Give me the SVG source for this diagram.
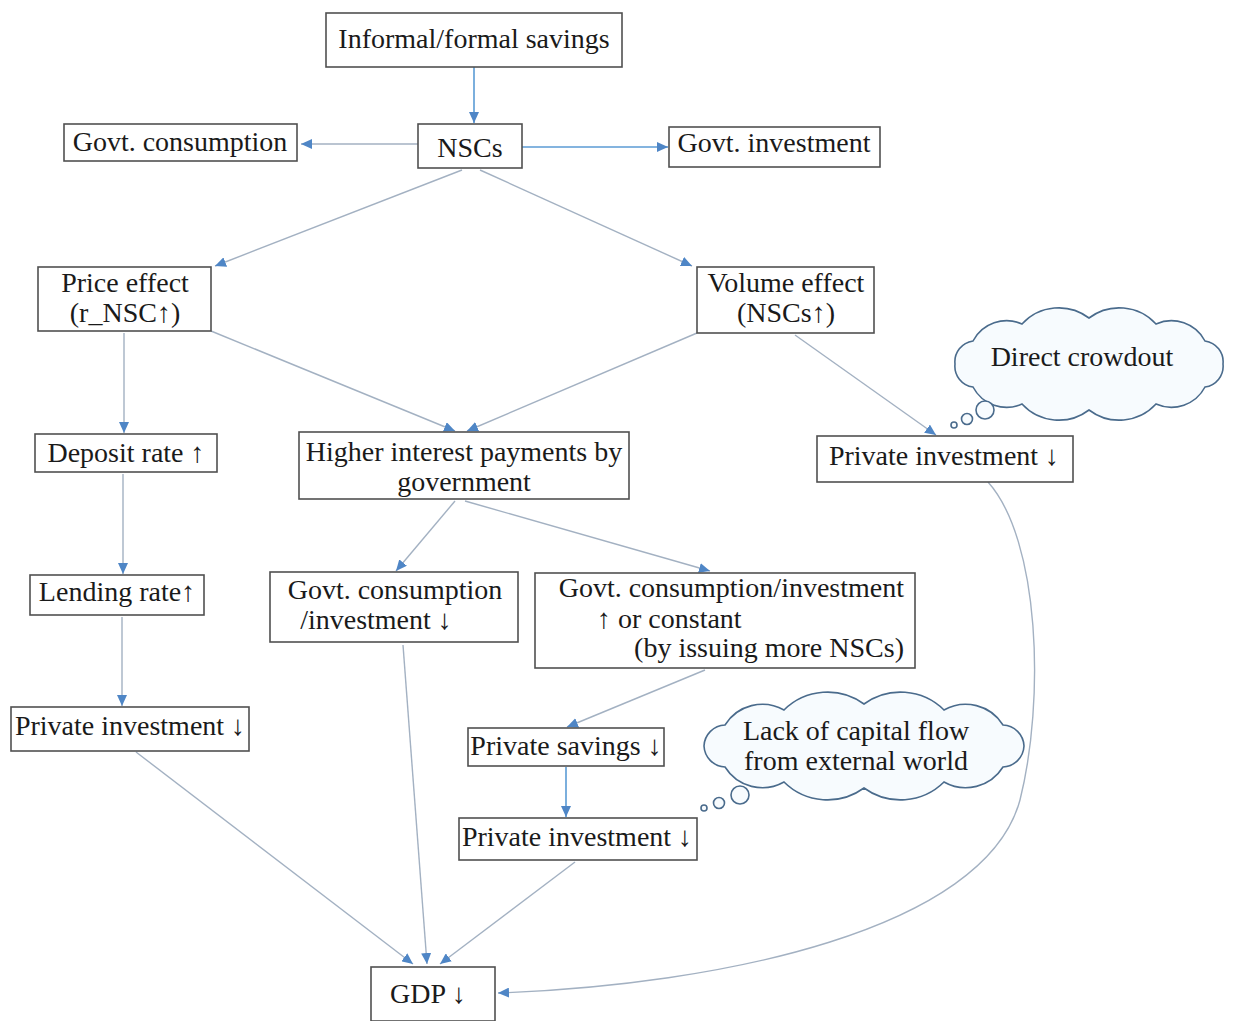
<svg xmlns="http://www.w3.org/2000/svg" width="1235" height="1021" viewBox="0 0 1235 1021">
<defs>
<marker id="ah" markerUnits="userSpaceOnUse" markerWidth="12" markerHeight="10" refX="11" refY="5" orient="auto">
<path d="M0,0 L11,5 L0,10 z" fill="#4f86c6"/>
</marker>
<style>
.box{fill:#fff;stroke:#505050;stroke-width:1.6}
.t{font-family:"Liberation Serif","DejaVu Serif","Times New Roman",serif;font-size:28px;fill:#1a1a1a}
.m{text-anchor:middle}
.e{text-anchor:end}
.c{fill:none;stroke:#a3b1c2;stroke-width:1.4;marker-end:url(#ah)}
.cb{fill:none;stroke:#5b9bd5;stroke-width:1.6;marker-end:url(#ah)}
.cloud{fill:#f7fbfe;stroke:#4a6b8c;stroke-width:1.6}
</style>
</defs>
<rect width="1235" height="1021" fill="#fff"/>

<g id="connectors">
<line class="cb" x1="474" y1="67" x2="474" y2="123"/>
<line class="c" x1="418" y1="144" x2="301" y2="144"/>
<line class="cb" x1="522" y1="147" x2="668" y2="147"/>
<line class="c" x1="462" y1="170" x2="215" y2="266"/>
<line class="c" x1="480" y1="170" x2="692" y2="266"/>
<line class="c" x1="124" y1="333" x2="124" y2="433"/>
<line class="c" x1="211" y1="331" x2="455" y2="431"/>
<line class="c" x1="697" y1="333" x2="467" y2="431"/>
<line class="c" x1="795" y1="335" x2="936" y2="435"/>
<line class="c" x1="123" y1="474" x2="123" y2="574"/>
<line class="c" x1="455" y1="501" x2="396" y2="571"/>
<line class="c" x1="465" y1="501" x2="710" y2="571"/>
<line class="c" x1="122" y1="617" x2="122" y2="706"/>
<line class="c" x1="705" y1="670" x2="567" y2="727"/>
<line class="cb" x1="566" y1="767" x2="566" y2="817"/>
<line class="c" x1="136" y1="752" x2="413" y2="964"/>
<line class="c" x1="403" y1="645" x2="427" y2="964"/>
<line class="c" x1="575" y1="862" x2="440" y2="964"/>
<path class="c" d="M988,482 C1040,540 1045,700 1020,800 C985,930 720,985 498,993"/>
</g>

<g id="n-informal"><rect class="box" x="326" y="13" width="296" height="54"/><text class="t m" x="474" y="48">Informal/formal savings</text></g>
<g id="n-nscs"><rect class="box" x="418" y="124" width="104" height="44"/><text class="t m" x="470" y="157">NSCs</text></g>
<g id="n-govcons"><rect class="box" x="64" y="124" width="233" height="37"/><text class="t m" x="180" y="151">Govt. consumption</text></g>
<g id="n-govinv"><rect class="box" x="669" y="127" width="211" height="40"/><text class="t m" x="774" y="152">Govt. investment</text></g>
<g id="n-price"><rect class="box" x="38" y="267" width="173" height="64"/><text class="t m" x="125" y="292">Price effect</text><text class="t m" x="125" y="322">(r_NSC↑)</text></g>
<g id="n-volume"><rect class="box" x="697" y="267" width="177" height="66"/><text class="t m" x="786" y="292">Volume effect</text><text class="t m" x="786" y="322">(NSCs↑)</text></g>

<g id="n-crowdout">
<path class="cloud" d="M1223,364 A21,21 0 0 1 1205,387 A38,38 0 0 1 1156,404 A50,50 0 0 1 1089,410 A50,50 0 0 1 1022,404 A38,38 0 0 1 973,387 A21,21 0 0 1 955,364 A21,21 0 0 1 973,341 A38,38 0 0 1 1022,324 A50,50 0 0 1 1089,318 A50,50 0 0 1 1156,324 A38,38 0 0 1 1205,341 A21,21 0 0 1 1223,364 z"/>
<circle class="cloud" cx="985" cy="410" r="9"/>
<circle class="cloud" cx="967" cy="419" r="5.5"/>
<circle class="cloud" cx="954" cy="425" r="3"/>
<text class="t m" x="1082" y="366">Direct crowdout</text>
</g>

<g id="n-deposit"><rect class="box" x="35" y="434" width="182" height="38"/><text class="t m" x="126" y="462">Deposit rate ↑</text></g>
<g id="n-higher"><rect class="box" x="299" y="432" width="330" height="67"/><text class="t m" x="464" y="461">Higher interest payments by</text><text class="t m" x="464" y="491">government</text></g>
<g id="n-privinv-r"><rect class="box" x="817" y="436" width="256" height="46"/><text class="t m" x="944" y="465">Private investment ↓</text></g>
<g id="n-lending"><rect class="box" x="30" y="575" width="174" height="40"/><text class="t m" x="117" y="601">Lending rate↑</text></g>
<g id="n-govdown"><rect class="box" x="270" y="572" width="248" height="70"/><text class="t m" x="395" y="599">Govt. consumption</text><text class="t m" x="376" y="629">/investment ↓</text></g>
<g id="n-govup"><rect class="box" x="535" y="573" width="380" height="95"/><text class="t e" x="904" y="597">Govt. consumption/investment</text><text class="t" x="597" y="628">↑ or constant</text><text class="t e" x="904" y="657">(by issuing more NSCs)</text></g>
<g id="n-privinv-l"><rect class="box" x="11" y="707" width="238" height="44"/><text class="t m" x="130" y="735">Private investment ↓</text></g>
<g id="n-privsav"><rect class="box" x="468" y="728" width="196" height="38"/><text class="t m" x="566" y="755">Private savings ↓</text></g>

<g id="n-lack">
<path class="cloud" d="M1024,746 A22,22 0 0 1 1003,767 A44,44 0 0 1 944,782 A62,62 0 0 1 864,788 A62,62 0 0 1 784,782 A44,44 0 0 1 725,767 A22,22 0 0 1 704,746 A22,22 0 0 1 725,725 A44,44 0 0 1 784,710 A62,62 0 0 1 864,704 A62,62 0 0 1 944,710 A44,44 0 0 1 1003,725 A22,22 0 0 1 1024,746 z"/>
<circle class="cloud" cx="740" cy="795" r="9"/>
<circle class="cloud" cx="719" cy="803" r="5.5"/>
<circle class="cloud" cx="704" cy="808" r="3"/>
<text class="t m" x="856" y="740">Lack of capital flow</text>
<text class="t m" x="856" y="770">from external world</text>
</g>

<g id="n-privinv-m"><rect class="box" x="459" y="818" width="238" height="42"/><text class="t m" x="577" y="846">Private investment ↓</text></g>
<g id="n-gdp"><rect class="box" x="371" y="967" width="124" height="54"/><text class="t m" x="428" y="1003">GDP ↓</text></g>
</svg>
